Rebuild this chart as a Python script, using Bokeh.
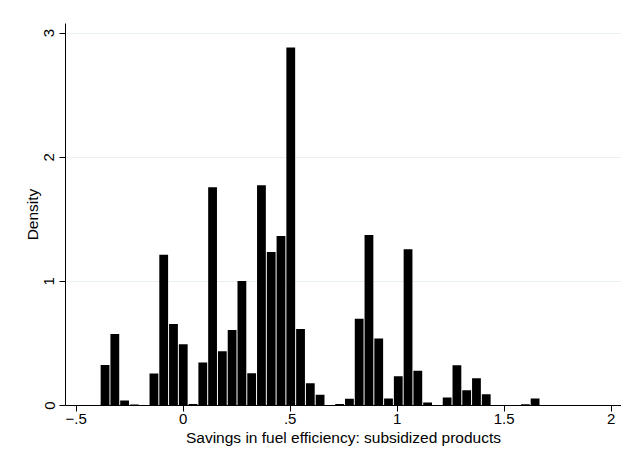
from bokeh.plotting import figure
from bokeh.models import Range1d, FixedTicker, ColumnDataSource, BoxAnnotation
from bokeh.embed import file_html
from bokeh.resources import INLINE

# Histogram bins (start of first bin and common bin width)
bin_start = -0.388
bin_width = 0.04567
density = [0.327, 0.576, 0.040, 0.008, 0.0, 0.257, 1.214, 0.657, 0.493, 0.013,
           0.346, 1.758, 0.437, 0.609, 1.003, 0.260, 1.774, 1.236, 1.365, 2.885,
           0.617, 0.180, 0.086, 0.0, 0.013, 0.054, 0.700, 1.373, 0.539, 0.056,
           0.236, 1.260, 0.280, 0.024, 0.0, 0.064, 0.324, 0.123, 0.220, 0.091,
           0.0, 0.0, 0.0, 0.010, 0.056]

x_ticks = [-0.5, 0.0, 0.5, 1.0, 1.5, 2.0]
x_tick_labels = ["\u2212.5", "0", ".5", "1", "1.5", "2"]
y_ticks = [0, 1, 2, 3]
y_tick_labels = ["0", "1", "2", "3"]

x_title = "Savings in fuel efficiency: subsidized products"
y_title = "Density"

centers = [bin_start + (i + 0.5) * bin_width for i in range(len(density))]
src = ColumnDataSource(dict(x=centers, top=density))

FONT = "Liberation Sans"

p = figure(width=621, height=456,
           x_range=Range1d(-0.550, 2.048), y_range=Range1d(0, 3.078),
           output_backend="svg", toolbar_location=None,
           min_border_left=65, min_border_right=0,
           min_border_top=23, min_border_bottom=51)
p.outline_line_color = None
p.background_fill_color = "white"
p.border_fill_color = "white"

# faint outer graph-region border
p.add_layout(BoxAnnotation(left=3.5, right=700, top=6.5, bottom=700,
                           left_units="canvas", right_units="canvas",
                           top_units="canvas", bottom_units="canvas",
                           fill_color=None, line_color="#e4ebeb", line_width=1,
                           level="overlay"))

p.vbar(x="x", top="top", bottom=0, width=bin_width * 0.9, source=src,
       fill_color="black", line_color=None)

p.xgrid.visible = False
p.ygrid.grid_line_color = "#e8f0f1"
p.ygrid.grid_line_width = 1

p.xaxis.ticker = FixedTicker(ticks=x_ticks)
p.xaxis.major_label_overrides = {t: l for t, l in zip(x_ticks, x_tick_labels)}
p.yaxis.ticker = FixedTicker(ticks=y_ticks)
p.yaxis.major_label_overrides = {t: l for t, l in zip(y_ticks, y_tick_labels)}
p.yaxis.major_label_orientation = "vertical"

for ax in (p.xaxis, p.yaxis):
    ax.axis_line_color = "black"
    ax.axis_line_width = 1
    ax.major_tick_line_color = "black"
    ax.major_tick_out = 6
    ax.major_tick_in = 0
    ax.minor_tick_line_color = None
    ax.major_label_text_font = FONT
    ax.major_label_text_font_size = "15px"
    ax.major_label_text_color = "black"
    ax.axis_label_text_font = FONT
    ax.axis_label_text_font_size = "15.5px"
    ax.axis_label_text_font_style = "normal"
    ax.axis_label_text_color = "black"

p.xaxis.axis_label = x_title
p.yaxis.axis_label = y_title
p.xaxis.major_label_standoff = 2
p.xaxis.axis_label_standoff = 2
p.yaxis.major_label_standoff = 5
p.yaxis.axis_label_standoff = 1

open("out.html", "w").write(file_html(p, INLINE))
